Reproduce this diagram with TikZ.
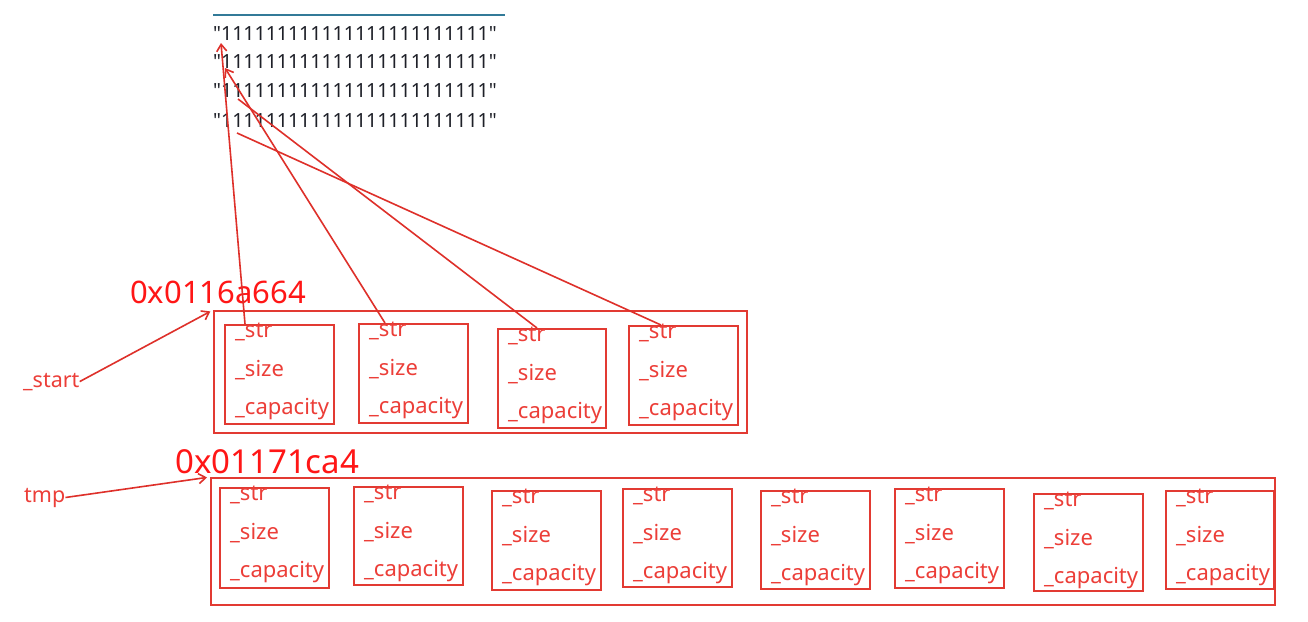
\documentclass[tikz,border=0pt]{standalone}
\usepackage{fontspec}
\setmainfont{Noto Sans}
\newfontfamily\strfont{Noto Sans}
\usetikzlibrary{arrows.meta}
\definecolor{boxred}{RGB}{226,58,50}
\definecolor{fieldred}{RGB}{236,62,56}
\definecolor{addrred}{RGB}{255,22,22}
\definecolor{linered}{RGB}{222,48,42}
\definecolor{rulecol}{RGB}{50,122,152}
\definecolor{strcol}{RGB}{30,32,40}
\begin{document}
\begin{tikzpicture}[x=1pt,y=-1pt,
  outerbox/.style={draw=boxred,line width=1.9pt,anchor=north west,inner sep=0pt},
  cellbox/.style={draw=boxred,line width=1.9pt,anchor=north west,inner sep=0pt},
  field/.style={text=fieldred,font=\fontsize{22}{22}\selectfont,anchor=base west,inner sep=0pt},
  addr/.style={text=addrred,anchor=base west,inner sep=0pt},
  lbl/.style={text=fieldred,font=\fontsize{21.5}{22}\selectfont,anchor=base west,inner sep=0pt},
  strline/.style={font=\strfont\fontsize{19.5}{20}\selectfont,anchor=base west,inner sep=0pt,text=strcol},
  ptr/.style={draw=linered,line width=1.6pt},
  tipped/.style={-{Straight Barb[length=7pt,width=10pt]}}]
\useasboundingbox[fill=white] (0,0) rectangle (1308,621);

% top rule and strings
\coordinate (r1) at (213,15);
\coordinate (r2) at (505,15);
\draw[rulecol,line width=1.3pt] (r1) -- (r2);
\node[strline] (s1) at (213,40) {"111111111111111111111111"};
\node[strline] (s2) at (213,68) {"111111111111111111111111"};
\node[strline] (s3) at (213,97) {"111111111111111111111111"};
\node[strline] (s4) at (213,127) {"111111111111111111111111"};

% outer boxes
\node[outerbox,minimum width=533pt,minimum height=122pt] (S) at (213,310) {};
\node[outerbox,minimum width=1064pt,minimum height=127pt] (T) at (210,477) {};

% cells
\foreach \n/\x/\y/\w/\h in {a1/224/324/109/99,a2/358/323/109/99,a3/497/328/108/99,a4/628/325/109/99,
  b1/219/487/109/100,b2/353/486/109/98,b3/491/490/109/99,b4/622/488/109/98,
  b5/760/490/109/98,b6/894/488/109/99,b7/1033/493/109/97,b8/1165/490/108/98}{
  \node[cellbox,minimum width=\w pt,minimum height=\h pt] (\n) at (\x,\y) {};
  \node[field] (\n-s) at ([xshift=11pt,yshift=-13pt]\n.north west) {\_str};
  \node[field] (\n-z) at ([xshift=11pt,yshift=-52pt]\n.north west) {\_size};
  \node[field] (\n-c) at ([xshift=11pt,yshift=-90pt]\n.north west) {\_capacity};
}

% addresses and labels
\node[addr,font=\fontsize{31}{31}\selectfont] (ad1) at (130,303) {0x0116a664};
\node[addr,font=\fontsize{33}{33}\selectfont] (ad2) at (175,473) {0x01171ca4};
\node[lbl] (startlbl) at (23,387) {\_start};
\node[lbl] (tmplbl) at (24,502) {tmp};

\draw[ptr,tipped,shorten >=3pt] (startlbl.east) -- (S.north west);
\draw[ptr,tipped,shorten >=3pt] (tmplbl.east) -- (T.north west);

% pointers to strings
\coordinate (p1) at (221,43);
\coordinate (p2) at (225,68);
\coordinate (p3) at (238,99);
\coordinate (p4) at (237,133);
\draw[ptr,tipped] ([xshift=21pt]a1.north west) -- (p1);
\draw[ptr,tipped] ([xshift=27pt]a2.north west) -- (p2);
\draw[ptr] ([xshift=40pt]a3.north west) -- (p3);
\draw[ptr] ([xshift=33pt]a4.north west) -- (p4);
\end{tikzpicture}
\end{document}
